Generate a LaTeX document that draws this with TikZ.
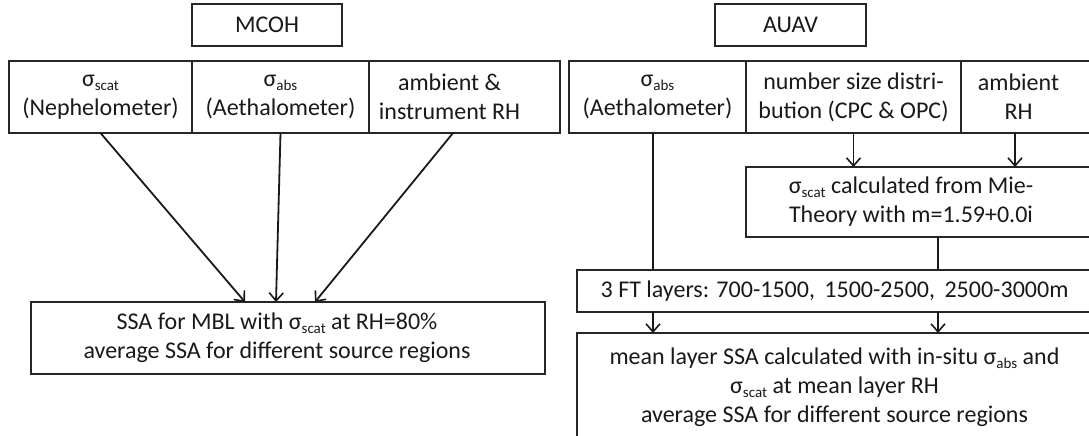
\documentclass[tikz,border=0pt]{standalone}
\usepackage{fontspec}
\setmainfont{Carlito}
\usetikzlibrary{arrows.meta,calc}
\newcommand\subs[1]{\raisebox{-4pt}{\fontsize{15}{15}\selectfont #1}}
\newcommand\shl[1]{\kern-#1pt}
\tikzset{
  box/.style={draw=black!85, line width=1.5pt, rectangle, inner sep=0pt, outer sep=0pt,
              align=center, font=\fontsize{24}{29}\selectfont, text=black!90},
  arr/.style={line width=1.8pt, draw=black!90, -{Straight Barb[length=8pt,width=14pt,line width=1.6pt]}},
  lin/.style={line width=1.8pt, draw=black!90}
}
\begin{document}
\begin{tikzpicture}[x=1pt,y=-1pt]
\useasboundingbox (0,0) rectangle (1089,436);
\clip (0,0) rectangle (1089,436);
% titles
\node[box, minimum width=150, minimum height=42] (mcoh) at (267,25) {MCOH};
\node[box, minimum width=151, minimum height=42] (auav) at (790.5,25) {AUAV};
% left row
\node[box, minimum width=183, minimum height=72] (c1) at (100.5,97) {σ\subs{scat}\\(Nephelometer)};
\node[box, minimum width=177, minimum height=72] (c2) at (280.5,97) {σ\subs{abs}\\(Aethalometer)};
\node[box, minimum width=191, minimum height=72] (c3) at (464.5,97) {\shl{30}ambient \&\\\shl{30}instrument RH};
% right row
\node[box, minimum width=177, minimum height=72] (a1) at (657.5,97) {σ\subs{abs}\\(Aethalometer)};
\node[box, minimum width=215, minimum height=72] (a2) at (853.5,97) {number size distri-\\bution (CPC \& OPC)};
\node[box, minimum width=131, minimum height=72] (a3) at (1026.5,97) {\shl{16}ambient\\\shl{16}RH};
% right lower boxes
\node[box, minimum width=346, minimum height=70] (mie) at (919,202) {\shl{16}σ\subs{scat} calculated from Mie-\\\shl{16}Theory with m=1.59+0.0i};
\node[box, minimum width=515, minimum height=42] (ft) at (834.5,291) {3 FT layers: 700-1500,\, 1500-2500,\, 2500-3000m};
\node[box, minimum width=515, minimum height=108] (mean) at (834.5,387) {mean layer SSA calculated with in-situ σ\subs{abs} and\\σ\subs{scat} at mean layer RH\\average SSA for different source regions};
% left result
\node[box, minimum width=514, minimum height=72] (bl) at (288,338) {\shl{22}SSA for MBL with σ\subs{scat} at RH=80\%\\\shl{22}average SSA for different source regions};
% helper coordinates
\coordinate (pa1) at ($(a1.south)+(-4.5,0)$);
\coordinate (pa3) at ($(a3.south)+(-11.5,0)$);
\coordinate (pmie) at ($(mie.south)+(19,0)$);
\coordinate (pc3) at ($(c3.south)+(-11.5,0)$);
\coordinate (e1) at ($(bl.north)+(-43,0)$);
\coordinate (e2) at ($(bl.north)+(-12,0)$);
\coordinate (e3) at ($(bl.north)+(27,0)$);
% left connectors
\draw[arr] (c1.south) -- (e1);
\draw[arr] (c2.south) -- (e2);
\draw[arr] (pc3) -- (e3);
% right connectors
\draw[lin] (pa1) -- (pa1 |- ft.north);
\draw[arr] (a2.south) -- (a2.south |- mie.north);
\draw[arr] (pa3) -- (pa3 |- mie.north);
\draw[lin] (pmie) -- (pmie |- ft.north);
\draw[arr] (pa1 |- ft.south) -- (pa1 |- mean.north);
\draw[arr] (pmie |- ft.south) -- (pmie |- mean.north);
\end{tikzpicture}
\end{document}
